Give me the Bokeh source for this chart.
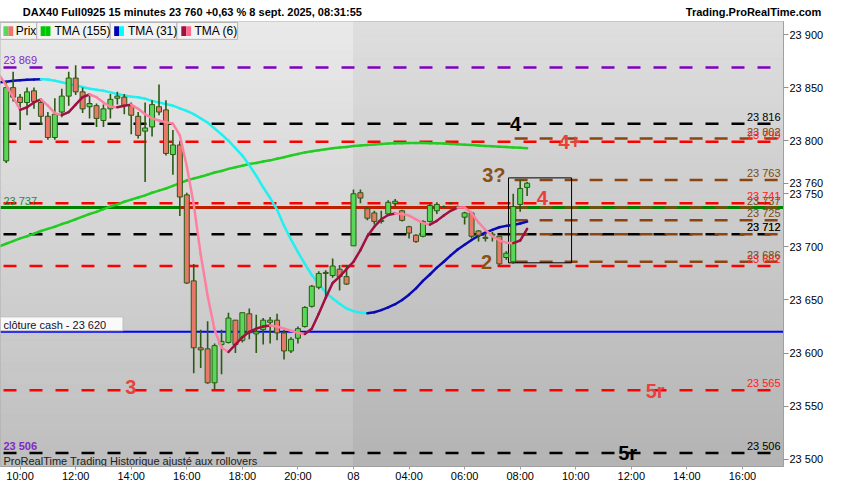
import numpy as np
from bokeh.plotting import figure
from bokeh.models import Range1d, FixedTicker, LinearAxis
from bokeh.core.properties import value
from bokeh.embed import file_html
from bokeh.resources import INLINE

# ---------------- data ----------------
# 15-minute candles; x axis in session hours, 22 = start of Monday session ("08")
START_HOUR = 9.5
STEP = 0.25
OPEN = [23781, 23850, 23841, 23836, 23847, 23836, 23823, 23803, 23827, 23842,
        23859, 23846, 23832, 23833, 23819, 23830, 23840, 23841, 23833, 23823,
        23809, 23813, 23832, 23829, 23787, 23796, 23749, 23668, 23605, 23604,
        23572, 23608, 23610, 23631, 23612, 23637, 23618, 23622, 23629, 23631,
        23619, 23602, 23614, 23625, 23644, 23662, 23675, 23673, 23679, 23672,
        23701, 23751, 23736, 23732, 23724, 23731, 23741, 23734, 23719, 23711,
        23710, 23724, 23734, 23738, 23741, 23738, 23728, 23732, 23715, 23709,
        23711, 23710, 23690, 23686, 23740, 23756]
HIGH = [23856, 23865, 23844, 23850, 23850, 23839, 23827, 23840, 23849, 23865,
        23871, 23850, 23842, 23835, 23834, 23844, 23846, 23844, 23836, 23827,
        23836, 23838, 23853, 23838, 23810, 23800, 23751, 23684, 23622, 23630,
        23609, 23622, 23638, 23631, 23638, 23642, 23636, 23633, 23634, 23637,
        23622, 23615, 23625, 23644, 23664, 23677, 23678, 23689, 23683, 23683,
        23754, 23754, 23738, 23734, 23734, 23744, 23745, 23735, 23720, 23712,
        23725, 23741, 23742, 23739, 23742, 23739, 23733, 23733, 23716, 23713,
        23714, 23710, 23696, 23750, 23763, 23761]
LOW = [23779, 23837, 23810, 23824, 23830, 23815, 23801, 23801, 23822, 23833,
       23843, 23826, 23821, 23813, 23813, 23821, 23834, 23825, 23806, 23802,
       23761, 23804, 23824, 23786, 23768, 23729, 23665, 23581, 23586, 23571,
       23566, 23580, 23609, 23600, 23610, 23613, 23600, 23608, 23609, 23612,
       23594, 23600, 23609, 23624, 23643, 23660, 23653, 23671, 23659, 23664,
       23701, 23741, 23725, 23721, 23722, 23730, 23738, 23724, 23708, 23704,
       23709, 23723, 23731, 23737, 23740, 23737, 23721, 23708, 23705, 23705,
       23705, 23683, 23688, 23684, 23733, 23748]
CLOSE = [23850, 23841, 23836, 23846, 23837, 23823, 23803, 23825, 23842, 23859,
         23846, 23830, 23835, 23821, 23830, 23839, 23842, 23833, 23824, 23805,
         23812, 23834, 23827, 23788, 23796, 23747, 23666, 23605, 23603, 23572,
         23607, 23611, 23633, 23608, 23638, 23619, 23620, 23631, 23631, 23619,
         23602, 23613, 23623, 23643, 23663, 23675, 23676, 23682, 23672, 23665,
         23750, 23746, 23727, 23724, 23725, 23742, 23743, 23725, 23713, 23705,
         23724, 23739, 23740, 23738, 23741, 23738, 23732, 23710, 23711, 23708,
         23712, 23684, 23694, 23738, 23755, 23760]

# moving averages, one value per candle starting one candle before the first one
TMA155 = [23700.5, 23703, 23705.5, 23708, 23710, 23712.5, 23715, 23717, 23719, 23721.5,
          23723.5, 23726, 23728.5, 23731, 23733, 23735.5, 23738, 23740, 23742.5, 23744.5,
          23746.5, 23748.5, 23751, 23753, 23755, 23757.5, 23760, 23762.5, 23764.5, 23766,
          23768, 23770, 23771.5, 23773.5, 23775, 23776.5, 23778, 23779, 23780.5, 23781.5,
          23783, 23784.5, 23786, 23787.5, 23789, 23790, 23791, 23792, 23793, 23793.5,
          23794, 23795, 23795.5, 23796, 23796.5, 23797, 23797.3, 23797.5, 23797.7, 23797.8,
          23797.8, 23797.8, 23797.7, 23797.5, 23797.3, 23797, 23796.7, 23796.3, 23796, 23795.5,
          23795, 23794.7, 23794.3, 23794, 23793.7, 23793.4, 23793]
TMA31 = [23855, 23855.5, 23856.5, 23857, 23857.5, 23857.7, 23857.9, 23857.7, 23856.5, 23855,
         23853.5, 23852, 23850.5, 23849, 23848, 23847, 23845.5, 23844, 23842.5, 23841.5,
         23841, 23839.5, 23837.5, 23836, 23834.5, 23833, 23830.5, 23828, 23825, 23821,
         23817, 23811.5, 23806, 23800, 23793, 23786, 23777, 23767, 23756, 23746,
         23735, 23720, 23707, 23695, 23684, 23673.5, 23665, 23657, 23651.5, 23646.5,
         23642, 23639.5, 23638, 23637.5, 23638.5, 23640.5, 23643, 23646, 23650, 23655,
         23661, 23668, 23674, 23680.5, 23686, 23692, 23697.5, 23702, 23706.5, 23710.5,
         23713.5, 23716, 23718.5, 23719.8, 23720.7, 23722, 23723.8]
TMA6 = [23862, 23852, 23841, 23829, 23831.5, 23836, 23839, 23833, 23826, 23824,
        23827, 23834, 23841, 23843.5, 23841, 23836, 23832, 23831.5, 23833, 23834,
        23830, 23825, 23821, 23819, 23817.5, 23816, 23805, 23776, 23740, 23693,
        23654, 23622, 23605, 23601, 23608, 23615, 23620, 23623, 23625, 23626,
        23625, 23623, 23621, 23619, 23618, 23623, 23637, 23652, 23666, 23672,
        23679, 23686, 23697, 23710, 23719, 23726, 23730, 23731.5, 23731, 23729.5,
        23726, 23722.5, 23721, 23724.5, 23729.5, 23734, 23737, 23737, 23732, 23723,
        23716, 23710, 23706, 23704, 23703.5, 23706, 23717]

BLACK_LEVELS = [23816, 23712, 23506]
RED_LEVELS = [23799, 23741, 23682, 23565]
BROWN_LEVELS = [23802, 23763, 23737, 23725, 23712, 23686]
PURPLE_LEVEL = 23869
GREEN_LEVEL = 23737
CASH_CLOSE = 23620
LAST_PRICE = 23760
BOX_TIME = [27.58, 29.85]
BOX_PRICE = [23685, 23765]

Y_TICKS = [23500, 23550, 23600, 23650, 23700, 23750, 23800, 23850, 23900]
X_TICKS = [10, 12, 14, 16, 18, 20, 22, 24, 26, 28, 30, 32, 34, 36]
X_LABELS = ["10:00", "12:00", "14:00", "16:00", "18:00", "20:00", "08",
            "04:00", "06:00", "08:00", "10:00", "12:00", "14:00", "16:00"]
LEGEND_ITEMS = ["Prix", "TMA (155)", "TMA (31)", "TMA (6)"]
TITLE = "DAX40 Full0925 15 minutes 23 760 +0,63 % 8 sept. 2025, 08:31:55"
SITE = "Trading.ProRealTime.com"
FOOTER = "ProRealTime Trading  Historique ajusté aux rollovers"
CASH_TEXT = "clôture cash -  "

# ---------------- helpers ----------------
FONT = "Liberation Sans"


def fmt(v):
    return f"{int(round(v)):,}".replace(",", " ")


def hx(px):  # reference pixel column -> session hour
    return 10 + (px - 20) / 28.35


def py(pyy):  # reference pixel row -> price
    return 23900 - (pyy - 34.5) / 1.1


X_MIN, X_MAX = hx(0), hx(799)
Y_MIN, Y_MAX = py(482), py(21)
FW, FH = 783, 445

p = figure(frame_width=FW, frame_height=FH, x_range=Range1d(X_MIN, X_MAX),
           y_range=Range1d(Y_MIN, Y_MAX), output_backend="svg", toolbar_location=None,
           y_axis_location="right", title_location=None,
           min_border_left=0, min_border_right=51, min_border_top=21, min_border_bottom=18)
p.xgrid.visible = False
p.ygrid.visible = False
p.border_fill_color = "white"
p.background_fill_color = "#d4d4d4"
p.outline_line_color = "#a0a0a0"

# right price axis (with the last price)
ya = p.yaxis[0]
ya.ticker = FixedTicker(ticks=Y_TICKS + [LAST_PRICE])
ya.major_label_overrides = {v: fmt(v) for v in Y_TICKS + [LAST_PRICE]}
ya.minor_tick_line_color = None
ya.major_tick_out = 5
ya.major_tick_in = 0
ya.major_label_standoff = 1
ya.axis_line_color = "#a0a0a0"
ya.major_tick_line_color = "#909090"
ya.major_label_text_font = FONT
ya.major_label_text_font_size = "11px"
ya.major_label_text_color = "black"

# time axis
xa = p.xaxis[0]
xa.ticker = FixedTicker(ticks=X_TICKS)
xa.major_label_overrides = {t: lab for t, lab in zip(X_TICKS, X_LABELS)}
xa.minor_tick_line_color = None
xa.major_tick_out = 3
xa.major_tick_in = 0
xa.major_label_standoff = 0
xa.axis_line_color = "#a0a0a0"
xa.major_tick_line_color = "#a0a0a0"
xa.major_label_text_font = FONT
xa.major_label_text_font_size = "11px"
xa.major_label_text_color = "black"

# title bar texts: an axis above the frame carrying the two header strings
TITLE_AT, SITE_AT = 16.2, 36.4
ta = LinearAxis(ticker=FixedTicker(ticks=[TITLE_AT, SITE_AT]),
                major_label_overrides={TITLE_AT: TITLE, SITE_AT: SITE})
ta.axis_line_color = None
ta.major_tick_line_color = None
ta.minor_tick_line_color = None
ta.major_tick_out = 0
ta.major_tick_in = 0
ta.major_label_standoff = 4
ta.major_label_text_font = FONT
ta.major_label_text_font_size = "11px"
ta.major_label_text_font_style = "bold"
ta.major_label_text_color = "black"
p.add_layout(ta, "above")

# ---------------- background gradient ----------------
NB = 60
edges = np.linspace(Y_MAX, Y_MIN, NB + 1)
for x0, x1, ctop, cbot in [(X_MIN, 22.0, 233, 190), (22.0, X_MAX, 222, 180)]:
    g = np.round(np.linspace(ctop, cbot, NB)).astype(int)
    cols = [f"#{v:02x}{v:02x}{v:02x}" for v in g]
    p.quad(left=x0, right=x1, top=edges[:-1], bottom=edges[1:], fill_color=cols,
           line_color=cols, line_width=1)

# ---------------- horizontal levels ----------------
RED = "#ff0000"
BROWN = "#8b4513"
PURPLE = "#8000c0"
p.segment(x0=X_MIN, x1=X_MAX, y0=[PURPLE_LEVEL], y1=[PURPLE_LEVEL], color=PURPLE,
          line_width=2.5, line_dash="13 13", line_dash_offset=-3)
p.segment(x0=X_MIN, x1=X_MAX, y0=[CASH_CLOSE], y1=[CASH_CLOSE], color="#0000ff", line_width=2)
p.segment(x0=X_MIN, x1=X_MAX, y0=[GREEN_LEVEL], y1=[GREEN_LEVEL], color="#008000", line_width=3)
p.segment(x0=15.72, x1=27.8, y0=[GREEN_LEVEL], y1=[GREEN_LEVEL], color=RED, line_width=2.5)
p.segment(x0=X_MIN, x1=X_MAX, y0=BLACK_LEVELS, y1=BLACK_LEVELS, color="black",
          line_width=2.5, line_dash="13 13", line_dash_offset=-3)
p.segment(x0=27.8, x1=X_MAX, y0=BROWN_LEVELS, y1=BROWN_LEVELS, color=BROWN,
          line_width=2.5, line_dash="13 12")
p.segment(x0=X_MIN, x1=X_MAX, y0=RED_LEVELS, y1=RED_LEVELS, color=RED,
          line_width=2.5, line_dash="13 13", line_dash_offset=-3)

# box
p.quad(left=[BOX_TIME[0]], right=[BOX_TIME[1]], bottom=[BOX_PRICE[0]], top=[BOX_PRICE[1]],
       fill_color=None, line_color="black", line_width=1)


# ---------------- moving averages ----------------
def ma(vals, up_col, down_col, width=2.5):
    v = np.array(vals, dtype=float)
    tt = START_HOUR - STEP + STEP * np.arange(len(v))
    d = np.diff(v)
    cols = [up_col if x > 0 else down_col for x in d]
    p.segment(tt[:-1], v[:-1], tt[1:], v[1:], color=cols, line_width=width, line_cap="round")


ma(TMA155, "#22cc22", "#22cc22")
ma(TMA31, "#0a0ab4", "#20f0f0")

# ---------------- candles ----------------
o = np.array(OPEN, float)
c = np.array(CLOSE, float)
t = START_HOUR + STEP * np.arange(len(o))
EDGE = "#2b5a12"
fills = ["#58d858" if cc >= oo else "#e8786a" for oo, cc in zip(o, c)]
p.segment(t, LOW, t, HIGH, color=EDGE, line_width=1.6)
p.vbar(x=t, width=0.18, top=np.maximum(o, c), bottom=np.minimum(o, c),
       fill_color=fills, line_color=EDGE, line_width=1)

ma(TMA6, "#a01040", "#ff7fa0")

# ---------------- texts ----------------
tf = value(FONT)
# right level labels
XR = hx(796)
for levels, col in [(BROWN_LEVELS, "#7a4a14"), (BLACK_LEVELS, "black"), (RED_LEVELS, "#ff2020")]:
    p.text(x=[XR] * len(levels), y=levels, text=[fmt(v) for v in levels], text_font=tf,
           text_font_size="11px", text_color=col, text_align="right",
           text_baseline="bottom", y_offset=-1)
# left labels
XL = hx(3)
p.text(x=[XL], y=[PURPLE_LEVEL], text=[fmt(PURPLE_LEVEL)], text_font=tf, text_font_size="11px",
       text_color="#8228c8", text_align="left", text_baseline="bottom", y_offset=-1)
p.text(x=[XL], y=[BLACK_LEVELS[-1]], text=[fmt(BLACK_LEVELS[-1])], text_font=tf,
       text_font_size="11px", text_font_style="bold", text_color="#8228c8",
       text_align="left", text_baseline="bottom", y_offset=-1)
p.text(x=[XL], y=[GREEN_LEVEL], text=[fmt(GREEN_LEVEL)], text_font=tf, text_font_size="11px",
       text_color="#1e8c3c", text_align="left", text_baseline="bottom", y_offset=-1)
# cash close label
p.quad(left=[X_MIN], right=[hx(125)], bottom=[CASH_CLOSE + 1], top=[py(327)],
       fill_color="#fafafa", line_color="#c0c0c0", line_width=1)
p.text(x=[XL], y=[CASH_CLOSE], text=[CASH_TEXT + fmt(CASH_CLOSE)], text_font=tf,
       text_font_size="11px", text_color="#101030", text_align="left",
       text_baseline="bottom", y_offset=-1)
# footer
p.text(x=[XL], y=[py(476)], text=[FOOTER], text_font=tf, text_font_size="11px",
       text_color="#202020", text_align="left", text_baseline="middle")

# wave labels
BIG = [("4", hx(525.5), BLACK_LEVELS[0], "black"),
       ("4+", hx(581), RED_LEVELS[0], "#e8413c"),
       ("3?", hx(503.5), py(180), "#8c5014"),
       ("4", hx(553), py(204), "#e8413c"),
       ("2", hx(496), BROWN_LEVELS[-1], "#8c5014"),
       ("3", hx(133), py(400), "#e8413c"),
       ("5r", hx(668), py(404), "#e8413c"),
       ("5r", hx(640), BLACK_LEVELS[-1], "black")]
p.text(x=[b[1] for b in BIG], y=[b[2] for b in BIG], text=[b[0] for b in BIG],
       text_color=[b[3] for b in BIG], text_font=tf, text_font_size="20px",
       text_font_style="bold", text_align="center", text_baseline="middle")

# legend row
LEG_EDGES = [0, 37, 112, 180, 242]
LEG_ICON = [("#58d858", "#e8786a"), ("#00c800", "#00c800"), ("#0000b4", "#00ffff"),
            ("#a01040", "#ff6b8f")]
LEG_ICON_X = [3, 41, 116, 184.5]
LEG_TEXT_X = [15.5, 55, 130, 198]
p.quad(left=[hx(v) for v in LEG_EDGES[:-1]], right=[hx(v) for v in LEG_EDGES[1:]],
       top=py(22), bottom=py(39.5), fill_color="#f3f3f3", line_color="#b4b4b4", line_width=1)
p.quad(left=[hx(v) for v in LEG_ICON_X], right=[hx(v + 5) for v in LEG_ICON_X],
       top=py(26), bottom=py(36), fill_color=[ic[0] for ic in LEG_ICON], line_color=None)
p.quad(left=[hx(v + 5) for v in LEG_ICON_X], right=[hx(v + 10) for v in LEG_ICON_X],
       top=py(26), bottom=py(36), fill_color=[ic[1] for ic in LEG_ICON], line_color=None)
p.text(x=[hx(v) for v in LEG_TEXT_X], y=py(31), text=LEGEND_ITEMS, text_font=tf,
       text_font_size="12px", text_color="black", text_align="left", text_baseline="middle")

open("out.html", "w").write(file_html(p, INLINE))
